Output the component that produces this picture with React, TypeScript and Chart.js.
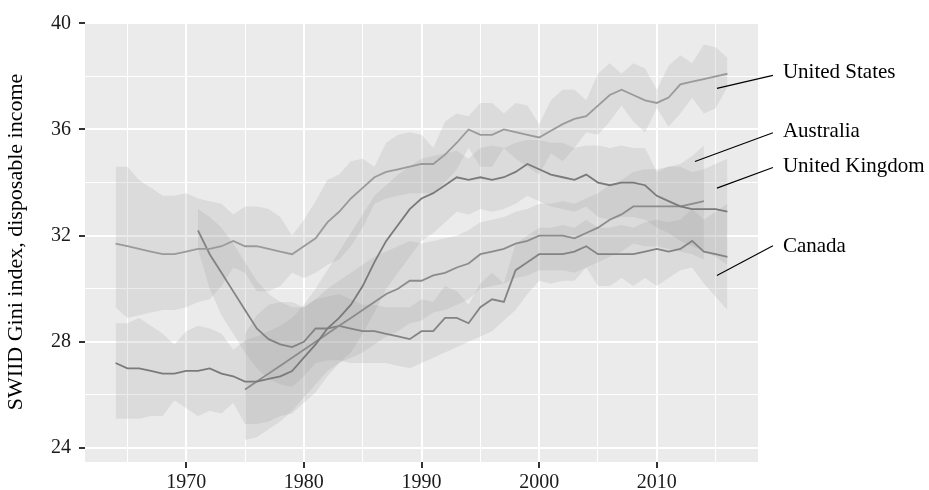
import React, { useEffect, useRef } from "react";
import { Chart, registerables } from "chart.js";

Chart.register(...registerables);

// ---------- data ----------
const US_START = 1964;
const usGini = [
  31.7, 31.6, 31.5, 31.4, 31.3, 31.3, 31.4, 31.5, 31.5, 31.6,
  31.8, 31.6, 31.6, 31.5, 31.4, 31.3, 31.6, 31.9, 32.5, 32.9,
  33.4, 33.8, 34.2, 34.4, 34.5, 34.6, 34.7, 34.7, 35.05, 35.5,
  36.0, 35.8, 35.8, 36.0, 35.9, 35.8, 35.7, 35.95, 36.2, 36.4,
  36.5, 36.9, 37.3, 37.5, 37.3, 37.1, 37.0, 37.2, 37.7, 37.8,
  37.9, 38.0, 38.1,
];
const usUpper = [
  34.6, 34.6, 34.1, 33.8, 33.5, 33.5, 33.6, 33.4, 33.3, 33.2,
  32.8, 33.1, 33.1, 33.0, 32.7, 32.0, 32.6, 33.3, 34.1, 34.3,
  34.8, 34.9, 34.6, 35.5, 35.8, 35.9, 35.8, 35.3, 36.3, 36.6,
  36.5, 37.0, 37.0, 36.6, 37.0, 36.9, 36.2, 37.1, 37.5, 37.5,
  37.1, 38.1, 38.5, 38.1, 38.5, 38.3, 37.5, 38.4, 38.8, 38.5,
  39.2, 39.1, 38.7,
];
const usLower = [
  29.3, 28.9, 29.0, 29.1, 29.2, 29.2, 29.3, 29.5, 29.6, 30.1,
  30.8, 30.6, 29.9, 29.9, 30.1, 30.6, 30.4, 30.6, 30.9, 31.1,
  31.6, 32.3, 33.2, 33.4, 33.5, 33.6, 33.6, 33.6, 34.0, 34.5,
  35.3, 34.6, 34.6, 35.3, 34.9, 34.6, 34.3, 35.1, 34.8, 35.3,
  35.9, 35.8, 36.3, 36.9, 36.3, 35.9, 36.8, 36.1, 36.6, 37.2,
  36.6, 36.8, 37.6,
];

const UK_START = 1964;
const ukGini = [
  27.2, 27.0, 27.0, 26.9, 26.8, 26.8, 26.9, 26.9, 27.0, 26.8,
  26.7, 26.5, 26.5, 26.6, 26.7, 26.9, 27.4, 27.9, 28.5, 28.9,
  29.4, 30.1, 31.0, 31.8, 32.4, 33.0, 33.4, 33.6, 33.9, 34.2,
  34.1, 34.2, 34.1, 34.2, 34.4, 34.7, 34.5, 34.3, 34.2, 34.1,
  34.3, 34.0, 33.9, 34.0, 34.0, 33.9, 33.5, 33.3, 33.1, 33.0,
  33.0, 33.0, 32.9,
];
const ukUpper = [
  28.7, 28.7, 28.9, 28.6, 28.3, 27.9, 28.4, 28.6, 28.5, 28.3,
  27.7, 28.05, 28.2, 28.4, 28.6, 28.9, 29.4, 30.0, 30.7, 31.4,
  32.1, 32.8, 33.5, 33.9, 34.3, 34.6, 34.9, 35.0, 35.1, 35.2,
  34.9, 35.3, 35.4, 35.3, 35.5, 35.6, 35.6, 35.5, 35.5, 35.3,
  35.4, 35.4, 35.3, 35.4, 35.3, 35.3, 34.4, 34.6, 34.6, 34.4,
  34.5, 34.7, 34.9,
];
const ukLower = [
  25.1, 25.1, 25.1, 25.2, 25.2, 25.8, 25.5, 25.2, 25.4, 25.3,
  25.7, 24.9, 24.9, 25.0, 25.2, 25.3, 25.7, 26.1, 26.7, 27.2,
  27.6, 28.3, 29.1, 30.0, 30.6, 31.2, 31.8, 32.1, 32.5, 32.9,
  32.8, 33.0, 32.9, 33.0, 33.2, 33.5, 33.3, 33.1, 33.0, 32.9,
  33.1, 32.7, 32.6, 32.7, 32.7, 32.6, 32.3, 32.1, 31.8, 31.6,
  31.4, 31.2, 30.9,
];

const AUS_START = 1975;
const ausGini = [
  26.2, 26.5, 26.8, 27.1, 27.4, 27.7, 28.0, 28.3, 28.6, 28.9,
  29.2, 29.5, 29.8, 30.0, 30.3, 30.3, 30.5, 30.6, 30.8, 30.95,
  31.3, 31.4, 31.5, 31.7, 31.8, 32.0, 32.0, 32.0, 31.9, 32.1,
  32.3, 32.6, 32.8, 33.1, 33.1, 33.1, 33.1, 33.1, 33.2, 33.3,
];
const ausUpper = [
  28.3, 29.0, 29.4, 29.5, 29.5, 29.3, 29.6, 30.0, 30.3, 30.6,
  30.9, 31.2, 31.4, 31.6, 31.8, 31.7, 31.8, 31.9, 32.0, 32.2,
  32.5, 32.6, 32.7, 32.9, 33.0, 33.2, 33.2, 33.3, 33.2, 33.4,
  33.6, 33.9, 34.1, 34.4, 34.5, 34.5, 34.6, 34.7, 35.0, 35.4,
];
const ausLower = [
  24.3, 24.4, 24.7, 25.0, 25.4, 25.9, 26.4, 26.9, 27.2, 27.4,
  27.6, 27.9, 28.2, 28.4, 28.7, 28.8, 29.1, 29.2, 29.4, 29.6,
  30.0, 30.1, 30.2, 30.4, 30.5, 30.7, 30.7, 30.7, 30.6, 30.8,
  31.0, 31.2, 31.4, 31.7, 31.6, 31.6, 31.5, 31.4, 31.3, 31.1,
];

const CAN_START = 1971;
const canGini = [
  32.2, 31.3, 30.6, 29.9, 29.2, 28.5, 28.1, 27.9, 27.8, 28.0,
  28.5, 28.5, 28.6, 28.5, 28.4, 28.4, 28.3, 28.2, 28.1, 28.4,
  28.4, 28.9, 28.9, 28.7, 29.3, 29.6, 29.5, 30.7, 31.0, 31.3,
  31.3, 31.3, 31.4, 31.6, 31.3, 31.3, 31.3, 31.3, 31.4, 31.5,
  31.4, 31.5, 31.8, 31.4, 31.3, 31.2,
];
const canUpper = [
  33.0, 32.7, 32.3, 31.7, 31.0, 30.3, 29.8, 29.5, 29.3, 29.3,
  29.6, 29.7, 29.8, 29.6, 29.4, 29.4, 29.3, 29.3, 29.3, 29.6,
  29.5, 30.1, 29.9, 29.4, 30.2, 30.6, 30.2, 31.7, 32.0, 32.3,
  32.3, 32.4, 32.3, 32.6, 32.3, 32.3, 32.4, 32.3, 32.5, 32.6,
  32.5, 32.6, 33.0, 32.6, 32.9, 33.2,
];
const canLower = [
  31.5, 30.0, 29.0, 28.3, 27.6, 27.0, 26.6, 26.4, 26.3, 26.7,
  27.2, 27.3, 27.3, 27.2, 27.2, 27.2, 27.2, 27.1, 27.0, 27.2,
  27.4, 27.6, 27.8, 28.0, 28.2, 28.4, 28.8, 29.2, 29.8, 30.3,
  30.2, 30.3, 30.3, 30.8, 30.1, 30.1, 30.4, 30.1, 30.4, 30.1,
  30.4, 30.7, 30.8, 30.2, 29.7, 29.2,
];

const xMajorTicks = [1970, 1980, 1990, 2000, 2010];
const xMinorTicks = [1965, 1975, 1985, 1995, 2005, 2015];
const yMajorTicks = [24, 28, 32, 36, 40];
const yMinorTicks = [26, 30, 34, 38];

const countryLabels = ["United States", "Australia", "United Kingdom", "Canada"];
const labelYear = 2020.72;
const labelValue = [38.13, 35.93, 34.61, 31.59];
const leaderStart = [
  [2015.11, 37.55],
  [2013.24, 34.79],
  [2015.11, 33.79],
  [2015.11, 30.5],
];
const leaderEnd = [
  [2019.87, 38.04],
  [2019.87, 35.88],
  [2019.87, 34.57],
  [2019.87, 31.62],
];

// ---------- helpers ----------
const FONT = "'Liberation Serif', 'Times New Roman', serif";
const BAND = "rgba(153,153,153,0.2)";

function pts(start: number, vals: number[]) {
  return vals.map((v, i) => ({ x: start + i, y: v }));
}

const seriesDefs = [
  { start: US_START, gini: usGini, lo: usLower, hi: usUpper, color: "#9a9a9a" },
  { start: UK_START, gini: ukGini, lo: ukLower, hi: ukUpper, color: "#7a7a7a" },
  { start: AUS_START, gini: ausGini, lo: ausLower, hi: ausUpper, color: "#8c8c8c" },
  { start: CAN_START, gini: canGini, lo: canLower, hi: canUpper, color: "#838383" },
];

const panelPlugin = {
  id: "panelDecor",
  beforeDraw(chart: any) {
    const { ctx, chartArea: a } = chart;
    ctx.save();
    ctx.fillStyle = "#EBEBEB";
    ctx.fillRect(a.left, a.top, a.right - a.left, a.bottom - a.top);
    ctx.restore();
  },
  afterDraw(chart: any) {
    const { ctx } = chart;
    const xs = chart.scales.x;
    const ys = chart.scales.y;
    ctx.save();
    ctx.strokeStyle = "#000";
    ctx.lineWidth = 1.1;
    for (let i = 0; i < countryLabels.length; i++) {
      ctx.beginPath();
      ctx.moveTo(xs.getPixelForValue(leaderStart[i][0]), ys.getPixelForValue(leaderStart[i][1]));
      ctx.lineTo(xs.getPixelForValue(leaderEnd[i][0]), ys.getPixelForValue(leaderEnd[i][1]));
      ctx.stroke();
    }
    ctx.fillStyle = "#000";
    ctx.font = `21px ${FONT}`;
    ctx.textAlign = "left";
    ctx.textBaseline = "middle";
    for (let i = 0; i < countryLabels.length; i++) {
      ctx.fillText(countryLabels[i], xs.getPixelForValue(labelYear), ys.getPixelForValue(labelValue[i]));
    }
    ctx.restore();
  },
};

export default function App() {
  const canvasRef = useRef<HTMLCanvasElement | null>(null);

  useEffect(() => {
    document.body.style.margin = "0";
    const canvas = canvasRef.current;
    if (!canvas) return;

    const datasets: any[] = [];
    seriesDefs.forEach((s) => {
      datasets.push({
        data: pts(s.start, s.hi),
        borderColor: "rgba(0,0,0,0)",
        borderWidth: 0,
        pointRadius: 0,
        backgroundColor: BAND,
        fill: "+1",
        tension: 0,
      });
      datasets.push({
        data: pts(s.start, s.lo),
        borderColor: "rgba(0,0,0,0)",
        borderWidth: 0,
        pointRadius: 0,
        fill: false,
        tension: 0,
      });
    });
    seriesDefs.forEach((s) => {
      datasets.push({
        data: pts(s.start, s.gini),
        borderColor: s.color,
        borderWidth: 1.8,
        pointRadius: 0,
        fill: false,
        tension: 0,
      });
    });

    const chart = new Chart(canvas, {
      type: "line",
      data: { datasets },
      options: {
        animation: false,
        responsive: false,
        devicePixelRatio: 1,
        events: [],
        layout: { padding: { top: 22, right: 171, left: 0, bottom: 0 } },
        plugins: {
          legend: { display: false },
          tooltip: { enabled: false },
          filler: { drawTime: "beforeDatasetsDraw" } as any,
        },
        scales: {
          x: {
            type: "linear",
            min: 1961.4,
            max: 2018.6,
            afterBuildTicks: (scale: any) => {
              scale.ticks = [...xMinorTicks, ...xMajorTicks]
                .sort((a, b) => a - b)
                .map((v) => ({ value: v }));
            },
            afterFit: (scale: any) => {
              scale.height = 28;
            },
            border: { display: false },
            grid: {
              color: "#ffffff",
              lineWidth: (c: any) => (xMajorTicks.includes(c.tick?.value) ? 2 : 1),
              tickColor: (c: any) => (xMajorTicks.includes(c.tick?.value) ? "#333333" : "rgba(0,0,0,0)"),
              tickWidth: 2,
              tickLength: 6,
            },
            ticks: {
              autoSkip: false,
              maxRotation: 0,
              padding: 3,
              color: "#1a1a1a",
              font: { family: FONT, size: 20 },
              callback: (v: any) => (xMajorTicks.includes(Number(v)) ? String(v) : ""),
            },
          },
          y: {
            type: "linear",
            min: 23.47,
            max: 40.05,
            afterBuildTicks: (scale: any) => {
              scale.ticks = [...yMinorTicks, ...yMajorTicks]
                .sort((a, b) => a - b)
                .map((v) => ({ value: v }));
            },
            afterFit: (scale: any) => {
              scale.width = 85;
            },
            border: { display: false },
            grid: {
              color: "#ffffff",
              lineWidth: (c: any) => (yMajorTicks.includes(c.tick?.value) ? 2 : 1),
              tickColor: (c: any) => (yMajorTicks.includes(c.tick?.value) ? "#333333" : "rgba(0,0,0,0)"),
              tickWidth: 2,
              tickLength: 6,
            },
            ticks: {
              autoSkip: false,
              padding: 8,
              color: "#1a1a1a",
              font: { family: FONT, size: 20 },
              callback: (v: any) => (yMajorTicks.includes(Number(v)) ? String(v) : ""),
            },
            title: {
              display: true,
              text: "SWIID Gini index, disposable income",
              color: "#000",
              font: { family: FONT, size: 22 },
              padding: { top: 3, bottom: 0 },
            },
          },
        },
      },
      plugins: [panelPlugin],
    });

    return () => chart.destroy();
  }, []);

  return (
    <div style={{ width: 929, height: 490 }}>
      <canvas ref={canvasRef} width={929} height={490} style={{ display: "block" }} />
    </div>
  );
}
